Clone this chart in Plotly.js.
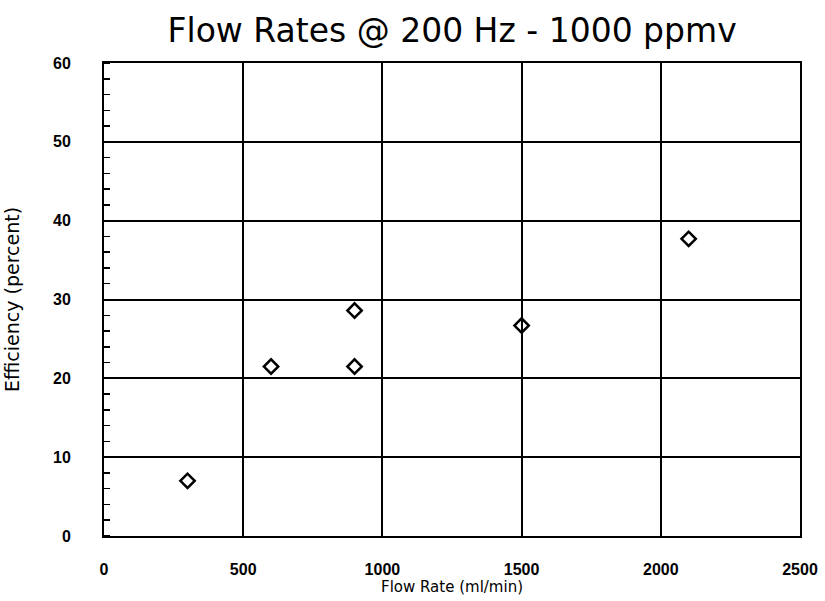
<!DOCTYPE html>
<html>
<head>
<meta charset="utf-8">
<script src="https://cdn.plot.ly/plotly-3.0.1.min.js"></script>
<style>html,body{margin:0;padding:0;background:#fff;}#chart{width:825px;height:601px;}</style>
</head>
<body>
<div id="chart"></div>
<script>
// Data
const flowRate = [300, 600, 900, 900, 1500, 2100];
const efficiency = [7, 21.5, 21.5, 28.6, 26.7, 37.7];
const xTickVals = [0, 500, 1000, 1500, 2000, 2500];
const xTickText = ["0", "500", "1000", "1500", "2000", "2500"];
const yTickVals = [0, 10, 20, 30, 40, 50, 60];
const yTickText = ["0", "10", "20", "30", "40", "50", "60"];

const trace = {
  x: flowRate,
  y: efficiency,
  type: 'scatter',
  mode: 'markers',
  marker: {symbol: 'diamond-open', size: 11, color: '#000', line: {width: 2.5, color: '#000'}},
  showlegend: false,
  hoverinfo: 'skip'
};

const layout = {
  width: 825, height: 601,
  paper_bgcolor: '#fff', plot_bgcolor: '#fff',
  margin: {l: 104, r: 25, t: 63, b: 65},
  title: {text: 'Flow Rates @ 200 Hz - 1000 ppmv', x: 0.548, xanchor: 'center', y: 0.95, yanchor: 'middle',
          font: {family: 'DejaVu Sans', size: 33, color: '#000'}},
  xaxis: {
    range: [0, 2500], tickvals: xTickVals, ticktext: xTickText,
    showgrid: true, gridcolor: '#000', gridwidth: 2,
    showline: true, linecolor: '#000', linewidth: 2, mirror: true,
    ticks: '', zeroline: false, ticklabelstandoff: 18,
    tickfont: {family: 'Liberation Sans', size: 16, color: '#000', weight: 'bold'},
    title: {text: 'Flow Rate (ml/min)', standoff: 0, font: {family: 'DejaVu Sans', size: 15, color: '#000'}}
  },
  yaxis: {
    range: [0, 60], tickvals: yTickVals, ticktext: yTickText,
    showgrid: true, gridcolor: '#000', gridwidth: 2,
    showline: true, linecolor: '#000', linewidth: 2, mirror: true,
    ticks: '', zeroline: false, ticklabelstandoff: 28,
    minor: {dtick: 2, ticks: 'inside', ticklen: 6, tickcolor: '#000', tickwidth: 1.5, showgrid: false},
    tickfont: {family: 'Liberation Sans', size: 16, color: '#000', weight: 'bold'},
    title: {text: 'Efficiency (percent)', standoff: 28, font: {family: 'DejaVu Sans', size: 19, color: '#000'}}
  }
};

Plotly.newPlot('chart', [trace], layout, {displayModeBar: false, staticPlot: true});
</script>
</body>
</html>
